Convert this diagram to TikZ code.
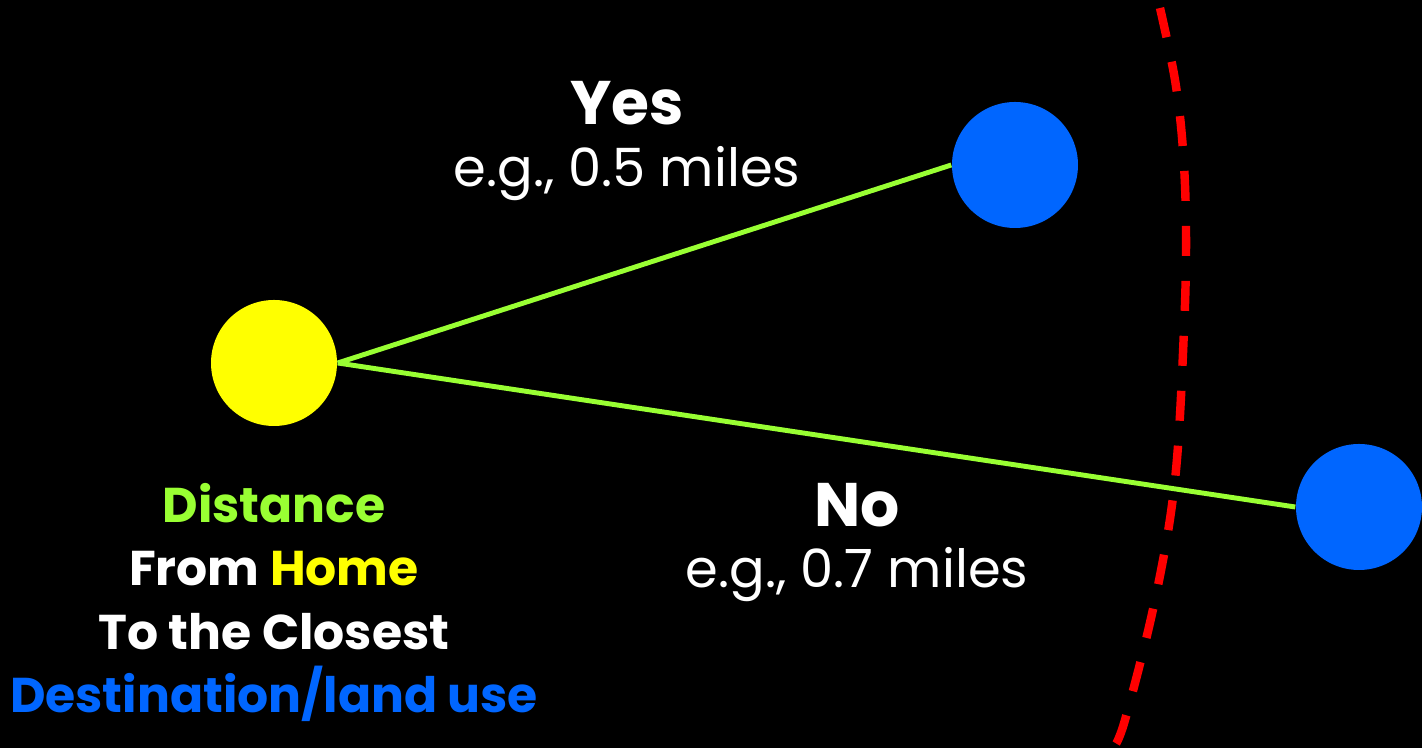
\documentclass[tikz,border=0pt]{standalone}
\usepackage{fontspec}
\setmainfont{Poppins}
\usepackage{tikz}
\usetikzlibrary{calc}
\definecolor{lime}{RGB}{153,255,51}
\definecolor{homey}{RGB}{255,255,0}
\definecolor{destb}{RGB}{0,102,255}
\definecolor{bound}{RGB}{255,0,0}
\begin{document}
\begin{tikzpicture}[
  spot/.style={circle,inner sep=0pt,minimum size=1.26cm},
  leg/.style={lime,line width=1.4pt},
  big/.style={white,font=\fontsize{17.5}{20}\selectfont\bfseries},
  small/.style={white,font=\fontsize{15}{18}\selectfont}]
  \fill[black] (0,0) rectangle (14.22,7.48);
  \useasboundingbox (0,0) rectangle (14.22,7.48);
  % home and the two destinations
  \node[spot,fill=homey] (home) at (2.74,3.85){};
  \node[spot,fill=destb] (near) at (10.15,5.83){};
  \node[spot,fill=destb] (far) at (13.59,2.41){};
  \draw[leg] (home.east)--(near.west);
  \draw[leg] (home.east)--(far.west);
  % walking boundary
  \draw[bound,line width=2.4pt,dash pattern=on 0.3cm off 0.25cm] plot[smooth,tension=0.6] coordinates
    {(11.60,7.40) (11.75,6.68) (11.83,5.98) (11.86,5.18) (11.84,4.18)
     (11.75,2.68) (11.55,1.48) (11.25,0.28) (11.13,0)};
  % labels
  \node[big] (yes) at (6.27,6.45){Yes};
  \node[small] (yeskm) at (6.27,5.74){e.g., 0.5 miles};
  \node[big] (no) at (8.57,2.43){No};
  \node[small] (nokm) at (8.57,1.73){e.g., 0.7 miles};
  \node[white,align=center,font=\fontsize{13.9}{18.1}\selectfont\bfseries] (legend) at (2.74,1.455)
    {\textcolor{lime}{Distance}\\ From \textcolor{homey}{Home}\\ To the Closest\\ \textcolor{destb}{Destination/land use}};
\end{tikzpicture}
\end{document}
